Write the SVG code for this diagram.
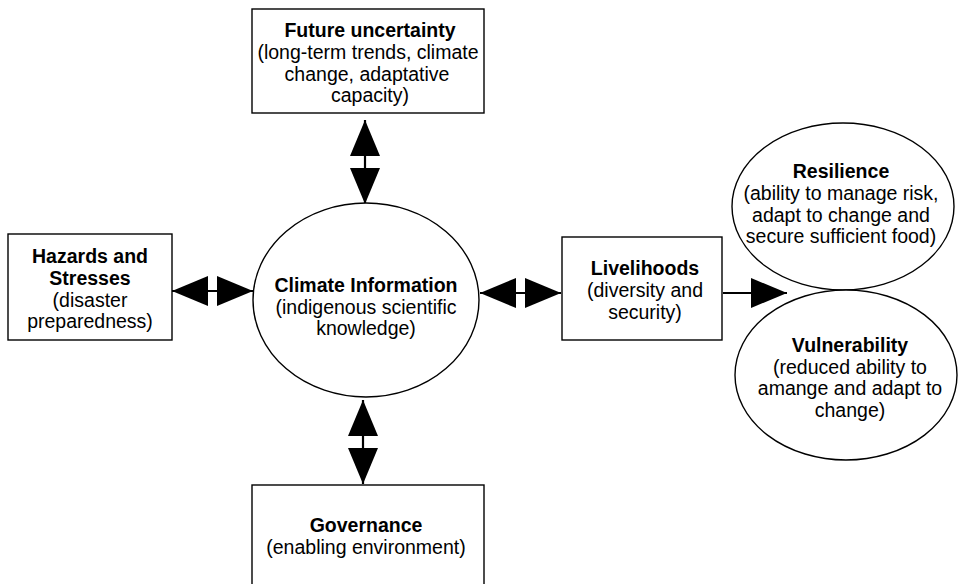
<svg xmlns="http://www.w3.org/2000/svg" width="961" height="584" viewBox="0 0 961 584">
<style>
.box{fill:#fff;stroke:#000;stroke-width:1.4}
.t{font-family:"Liberation Sans",Arial,Helvetica,sans-serif;font-size:19.5px;fill:#000;text-anchor:middle}
.b{font-weight:bold}
.c{stroke:#000;stroke-width:2.2;fill:none}
</style>
<defs>
<marker id="ah" markerUnits="userSpaceOnUse" markerWidth="36" markerHeight="30" viewBox="0 0 36 30" refX="36" refY="15" orient="auto-start-reverse">
<path d="M0,0 L36,15 L0,30 z" fill="#000"/>
</marker>
</defs>
<rect width="961" height="584" fill="#fff"/>
<g id="connectors">
<line class="c" x1="365" y1="120" x2="365" y2="204" marker-start="url(#ah)" marker-end="url(#ah)"/>
<line class="c" x1="363" y1="400" x2="363" y2="484" marker-start="url(#ah)" marker-end="url(#ah)"/>
<line class="c" x1="172" y1="291" x2="253" y2="291" marker-start="url(#ah)" marker-end="url(#ah)"/>
<line class="c" x1="480" y1="293" x2="561" y2="293" marker-start="url(#ah)" marker-end="url(#ah)"/>
<line class="c" x1="723" y1="293" x2="787" y2="293" marker-end="url(#ah)"/>
</g>
<g id="future">
<rect class="box" x="252" y="9" width="232" height="104"/>
<text class="t" x="369"><tspan class="b" x="370" y="37">Future uncertainty</tspan><tspan x="368" y="59">(long-term trends, climate</tspan><tspan x="367" y="80.5">change, adaptative</tspan><tspan x="370" y="102">capacity)</tspan></text>
</g>
<g id="hazards">
<rect class="box" x="8" y="234" width="164" height="106"/>
<text class="t"><tspan class="b" x="90" y="263">Hazards and</tspan><tspan class="b" x="90" y="285">Stresses</tspan><tspan x="90" y="306.5">(disaster</tspan><tspan x="90" y="328">preparedness)</tspan></text>
</g>
<g id="climate">
<ellipse class="box" cx="366" cy="300" rx="113" ry="97"/>
<text class="t"><tspan class="b" x="366" y="292">Climate Information</tspan><tspan x="366" y="313.5">(indigenous scientific</tspan><tspan x="366" y="335">knowledge)</tspan></text>
</g>
<g id="livelihoods">
<rect class="box" x="562" y="237" width="160" height="103"/>
<text class="t"><tspan class="b" x="645" y="275">Livelihoods</tspan><tspan x="645" y="297">(diversity and</tspan><tspan x="645" y="318.5">security)</tspan></text>
</g>
<g id="resilience">
<ellipse class="box" cx="843" cy="206.5" rx="111" ry="83.5"/>
<text class="t"><tspan class="b" x="841" y="178">Resilience</tspan><tspan x="841" y="200">(ability to manage risk,</tspan><tspan x="841" y="221.5">adapt to change and</tspan><tspan x="841" y="243">secure sufficient food)</tspan></text>
</g>
<g id="vulnerability">
<ellipse class="box" cx="846" cy="375" rx="111" ry="85"/>
<text class="t"><tspan class="b" x="850" y="352">Vulnerability</tspan><tspan x="850" y="373.5">(reduced ability to</tspan><tspan x="850" y="395">amange and adapt to</tspan><tspan x="850" y="416.5">change)</tspan></text>
</g>
<g id="governance">
<rect class="box" x="252" y="485" width="232" height="110"/>
<text class="t"><tspan class="b" x="366" y="532">Governance</tspan><tspan x="366" y="554">(enabling environment)</tspan></text>
</g>
</svg>
